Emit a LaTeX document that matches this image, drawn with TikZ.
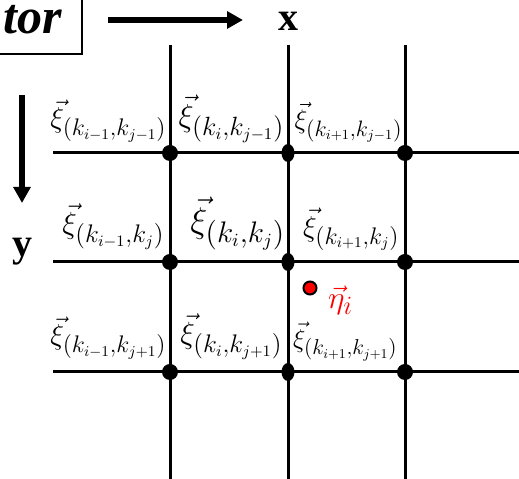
\documentclass[tikz,border=0pt]{standalone}
\usepackage{graphicx}
\usepackage{fontspec}
\newfontfamily\timesfont{Liberation Serif}
\usetikzlibrary{arrows.meta,positioning,shapes.geometric}
\newcommand{\ptlab}[2][0.5]{\scalebox{#1}{\fontsize{19}{22}\selectfont$#2$}}

\begin{document}
\begin{tikzpicture}[x=0.3pt, y=-0.3pt, every node/.style={inner sep=0pt}]
    \tikzset{
      gridline/.style={line width=0.9pt},
      axis/.style={line width=1.8pt,-{Triangle[length=4.8pt,width=5pt]}},
      dot/.style={circle,fill=black,minimum size=4.8pt},
      flatdot/.style={ellipse,fill=black,minimum width=3.9pt,minimum height=5.4pt},
      axlab/.style={font=\timesfont\fontsize{12}{14}\selectfont\bfseries}
    }
    \useasboundingbox (0,0) rectangle (519,479);
    % title box, cut by the page edge
    \node[draw,line width=0.5pt,inner sep=6pt,anchor=south east,font=\timesfont\fontsize{15}{17}\selectfont\bfseries\itshape] (title) at (83,55) {tor};
    % axes
    \node[axlab] (xlab) at (288,21) {x};
    \node[axlab] (ylab) at (22,252) {y};
    \coordinate (xs) at (108,20);
    \coordinate (xe) at (243,20);
    \coordinate (ys) at (22,95);
    \coordinate (ye) at (22,203);
    \draw[axis] (xs) -- (xe);
    \draw[axis] (ys) -- (ye);
    % grid lines
    \foreach \c/\xx in {1/170,2/288,3/405} {
      \coordinate (top-\c) at (\xx,45);
      \coordinate (bot-\c) at (\xx,479);
      \draw[gridline] (top-\c) -- (bot-\c);
    }
    \foreach \r/\yy in {1/153,2/262,3/372} {
      \coordinate (left-\r) at (53,\yy);
      \coordinate (right-\r) at (519,\yy);
      \draw[gridline] (left-\r) -- (right-\r);
    }
    % grid points
    \foreach \c/\xx/\s in {1/170/dot,2/288/flatdot,3/405/dot}
      \foreach \r/\yy in {1/153,2/262,3/372}
        \node[\s] (p-\c-\r) at (\xx,\yy) {};
    % labels of the grid points
    \node[above left=3pt and 0.9pt of p-1-1.center] (l-1-1) {\ptlab{\vec{\xi}_{(k_{i-1},k_{j-1})}}};
    \node[above left=3pt and 0.9pt of p-2-1.center] (l-2-1) {\ptlab[0.55]{\vec{\xi}_{(k_{i},k_{j-1})}}};
    \node[above left=3pt and 0.6pt of p-3-1.center] (l-3-1) {\ptlab[0.465]{\vec{\xi}_{(k_{i+1},k_{j-1})}}};
    \node[above left=3.6pt and 1.5pt of p-1-2.center] (l-1-2) {\ptlab[0.53]{\vec{\xi}_{(k_{i-1},k_{j})}}};
    \node[above left=3.3pt and 0.6pt of p-2-2.center] (l-2-2) {\ptlab[0.62]{\vec{\xi}_{(k_{i},k_{j})}}};
    \node[above left=3.2pt and 1.5pt of p-3-2.center] (l-3-2) {\ptlab{\vec{\xi}_{(k_{i+1},k_{j})}}};
    \node[above left=3.6pt and 0.9pt of p-1-3.center] (l-1-3) {\ptlab{\vec{\xi}_{(k_{i-1},k_{j+1})}}};
    \node[above left=3.6pt and 1.5pt of p-2-3.center] (l-2-3) {\ptlab[0.53]{\vec{\xi}_{(k_{i},k_{j+1})}}};
    \node[above left=3.2pt and 2.1pt of p-3-3.center] (l-3-3) {\ptlab[0.45]{\vec{\xi}_{(k_{i+1},k_{j+1})}}};
    % the red point
    \node[circle,fill=red,draw=black,line width=0.6pt,minimum size=3.9pt] (eta) at (310,288) {};
    \node[right=3pt of eta,yshift=-3.6pt,text=red] (etalab) {\ptlab[0.55]{\vec{\eta}_i}};
\end{tikzpicture}
\end{document}
